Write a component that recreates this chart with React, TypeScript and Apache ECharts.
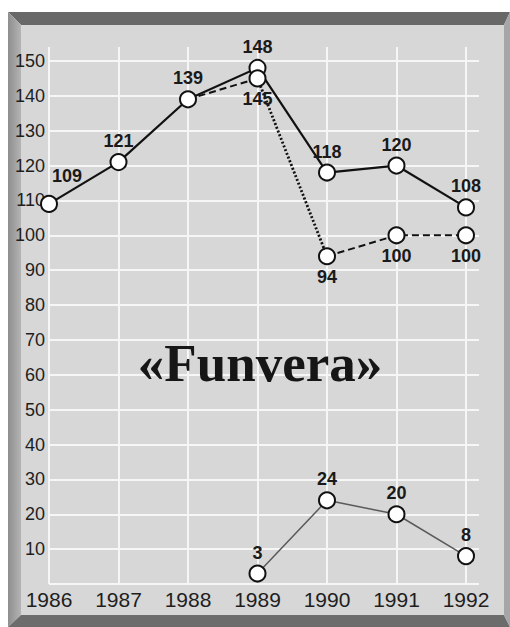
import React, { useEffect, useRef } from "react";
import * as echarts from "echarts";

const years = ["1986", "1987", "1988", "1989", "1990", "1991", "1992"];
const mainValues = [109, 121, 139, 148, 118, 120, 108];
const altValues: (number | null)[] = [null, null, 139, 145, 94, 100, 100];
const newValues: (number | null)[] = [null, null, null, 3, 24, 20, 8];
const yMin = 0;
const yMax = 150;
const yStep = 10;
const title = "«Funvera»";

const SANS = "'Liberation Sans', Arial, Helvetica, sans-serif";
const SERIF = "'Liberation Serif', 'Times New Roman', serif";

export default function App() {
  const ref = useRef<HTMLDivElement>(null);
  useEffect(() => {
    if (!ref.current) return;
    const chart = echarts.init(ref.current, undefined, { renderer: "svg" });

    const seg = (from: number, to: number) =>
      altValues.map((v, i) => (i >= from && i <= to ? v : null));

    const symbolStyle = { color: "#ffffff", borderColor: "#111111", borderWidth: 2 };
    const labelBase = {
      show: true,
      fontSize: 18,
      fontWeight: "bold" as const,
      color: "#1a1a1a",
      fontFamily: SANS,
      distance: 3,
    };
    const gridLine = { color: "#f6f6f6", width: 2 };

    const option: any = {
      animation: false,
      backgroundColor: "#ffffff",
      textStyle: { fontFamily: SANS },
      grid: [
        { left: 49, top: 61, width: 430, height: 523 },
        { left: 49, top: 47, width: 417, height: 537 },
      ],
      graphic: [
        { type: "rect", z: -10, shape: { x: 21, y: 25, width: 483, height: 590 }, style: { fill: "#d7d7d7" } },
        { type: "polygon", z: -9, shape: { points: [[8, 12], [510, 12], [504, 25], [21, 25]] }, style: { fill: "#686868" } },
        {
          type: "polygon", z: -9,
          shape: { points: [[8, 12], [21, 25], [21, 615], [8, 627]] },
          style: {
            fill: new echarts.graphic.LinearGradient(0, 0, 1, 0, [
              { offset: 0, color: "#8e8e8e" },
              { offset: 1, color: "#b4b4b4" },
            ]),
          },
        },
        { type: "polygon", z: -9, shape: { points: [[8, 627], [21, 615], [504, 615], [510, 627]] }, style: { fill: "#6c6c6c" } },
        { type: "polygon", z: -9, shape: { points: [[510, 12], [510, 627], [504, 615], [504, 25]] }, style: { fill: "#a6a6a6" } },
        {
          type: "text", z: 5, x: 260, y: 363,
          style: {
            text: title, fill: "#161616", font: `bold 53px ${SERIF}`,
            align: "center", verticalAlign: "middle",
          },
        },
      ],
      xAxis: [
        { gridIndex: 0, type: "value", min: 0, max: 1, show: false },
        {
          gridIndex: 1, type: "category", data: years, boundaryGap: false,
          axisLine: { show: false }, axisTick: { show: false },
          axisLabel: { interval: 0, fontSize: 21, color: "#1e1e1e", margin: 5, fontFamily: SANS },
          splitLine: { show: true, interval: 0, lineStyle: gridLine },
        },
      ],
      yAxis: [
        {
          gridIndex: 0, type: "value", min: yMin, max: yMax, interval: yStep,
          axisLine: { show: false }, axisTick: { show: false },
          axisLabel: {
            fontSize: 18, color: "#1e1e1e", margin: 4, fontFamily: SANS,
            formatter: (v: number) => (v === 0 ? "" : String(v)),
          },
          splitLine: { show: true, lineStyle: gridLine },
        },
        { gridIndex: 1, type: "value", min: yMin, max: 154, show: false },
      ],
      series: [
        {
          type: "line", xAxisIndex: 1, yAxisIndex: 1, data: seg(2, 3),
          symbol: "none", lineStyle: { color: "#111", width: 2, type: [7, 4] }, z: 2,
        },
        {
          type: "line", xAxisIndex: 1, yAxisIndex: 1, data: seg(3, 4),
          symbol: "none", lineStyle: { color: "#111", width: 2.8, type: [2, 2] }, z: 2,
        },
        {
          type: "line", xAxisIndex: 1, yAxisIndex: 1, data: seg(4, 6),
          symbol: "none", lineStyle: { color: "#111", width: 2, type: [7, 4] }, z: 2,
        },
        {
          type: "line", xAxisIndex: 1, yAxisIndex: 1, data: newValues,
          symbol: "circle", symbolSize: 16, itemStyle: symbolStyle,
          lineStyle: { color: "#5a5a5a", width: 1.5 },
          label: { ...labelBase, position: "top" }, z: 3,
        },
        {
          type: "line", xAxisIndex: 1, yAxisIndex: 1,
          data: mainValues.map((v, i) => (i === 0 ? { value: v, label: { offset: [18, -7] } } : v)),
          symbol: "circle", symbolSize: 16, itemStyle: symbolStyle,
          lineStyle: { color: "#111", width: 2.2 },
          label: { ...labelBase, position: "top" }, z: 4,
        },
        {
          type: "line", xAxisIndex: 1, yAxisIndex: 1,
          data: altValues.map((v, i) =>
            i === 2 ? { value: v, symbol: "none", label: { show: false } } : v
          ),
          symbol: "circle", symbolSize: 16, itemStyle: symbolStyle,
          lineStyle: { width: 0, opacity: 0 },
          label: { ...labelBase, position: "bottom" }, z: 5,
        },
      ],
    };
    chart.setOption(option);
    return () => chart.dispose();
  }, []);
  return (
    <div
      ref={ref}
      style={{ position: "fixed", left: 0, top: 0, width: 510, height: 627 }}
    />
  );
}
